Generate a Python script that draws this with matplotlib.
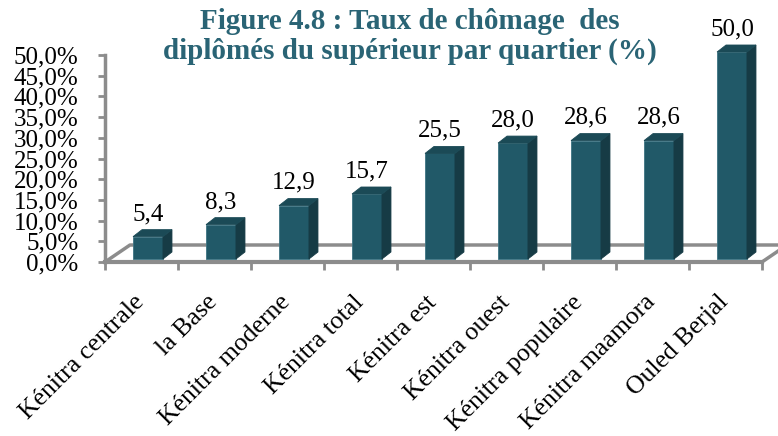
import numpy as np
import matplotlib.pyplot as plt
from matplotlib.patches import Polygon
from matplotlib.transforms import ScaledTranslation

# données
quartiers = ["Kénitra centrale", "la Base", "Kénitra moderne", "Kénitra total",
             "Kénitra est", "Kénitra ouest", "Kénitra populaire", "Kénitra maamora",
             "Ouled Berjal"]
taux = [5.4, 8.3, 12.9, 15.7, 25.5, 28.0, 28.6, 28.6, 50.0]
y_ticks = np.arange(0, 55, 5)

TITRE = "Figure 4.8 : Taux de chômage  des\ndiplômés du supérieur par quartier (%)"

FRONT = "#215968"
SIDE = "#163b45"
TOP = "#1b4a56"
GRIS = "#8c8c8c"

plt.rcParams["font.family"] = ["Liberation Serif", "DejaVu Serif"]

W, H = 778, 436
fig = plt.figure(figsize=(W / 100, H / 100), dpi=100)
x0, x1, y0, y1 = 105, 762, 262, 55  # zone du graphique en pixels
ax = fig.add_axes([x0 / W, (H - y0) / H, (x1 - x0) / W, (y0 - y1) / H])
n = len(quartiers)
ax.set_xlim(-0.5, n - 0.5)
ax.set_ylim(0, 50)

# conversion pixels -> unités de données (pour l'effet 3D)
px_x = n / (x1 - x0)
px_y = 50 / (y0 - y1)

# sol en perspective
dX, dY = 25 * px_x, 17 * px_y
ax.plot([-0.5, -0.5 + dX, n - 0.5 + dX], [0, dY, dY], color=GRIS, lw=2.5,
        clip_on=False, zorder=1)
ax.plot([n - 0.5, n - 0.5 + dX], [0, dY], color=GRIS, lw=2.5, clip_on=False, zorder=1)

# barres 3D
larg = 0.41
sx, sy = 6.5 * px_x, 3 * px_y      # position de la barre dans la profondeur
bx, by = 9 * px_x, 7 * px_y        # épaisseur de la barre
for i, v in enumerate(taux):
    xl = i + sx - larg / 2
    xr = i + sx + larg / 2
    yb, yt = sy, v + sy
    faces = [
        ([(xl, yb), (xr, yb), (xr, yt), (xl, yt)], FRONT, "#3d7483"),
        ([(xr, yb), (xr + bx, yb + by), (xr + bx, yt + by), (xr, yt)], SIDE, SIDE),
        ([(xl, yt), (xr, yt), (xr + bx, yt + by), (xl + bx, yt + by)], TOP, TOP),
    ]
    for pts, fc, ec in faces:
        ax.add_patch(Polygon(pts, closed=True, fc=fc, ec=ec, lw=0.6, zorder=3,
                             clip_on=False))
    ax.annotate(f"{v:.1f}".replace(".", ","), (i + sx, yt), xytext=(0, 12),
                textcoords="offset points", ha="center", va="baseline",
                fontsize=18, annotation_clip=False)

# axes
for s in ["top", "right"]:
    ax.spines[s].set_visible(False)
ax.spines["left"].set_color(GRIS)
ax.spines["left"].set_linewidth(2.5)
ax.spines["bottom"].set_color(GRIS)
ax.spines["bottom"].set_linewidth(3)
ax.spines["bottom"].set_zorder(2)

ax.set_yticks(y_ticks)
ax.set_yticklabels([f"{t:.1f}%".replace(".", ",") for t in y_ticks], fontsize=18)
ax.tick_params(axis="y", length=5, width=2, color=GRIS, pad=14)

ax.set_xticks(np.arange(n))
ax.set_xticklabels(quartiers, rotation=45, ha="right", rotation_mode="anchor",
                   fontsize=18.5)
ax.tick_params(axis="x", which="major", length=0, pad=21)
ax.set_xticks(np.arange(n + 1) - 0.5, minor=True)
ax.tick_params(axis="x", which="minor", length=6, width=2, color=GRIS)
decal = ScaledTranslation(-8 / 100, 0, fig.dpi_scale_trans)
for lab in ax.get_xticklabels():
    lab.set_transform(lab.get_transform() + decal)

fig.text(0.527, 1 - 8 / H, TITRE, ha="center", va="top", fontsize=21,
         fontweight="bold", color="#2a6475", linespacing=1.15)

fig.savefig("out.png", dpi=100)
